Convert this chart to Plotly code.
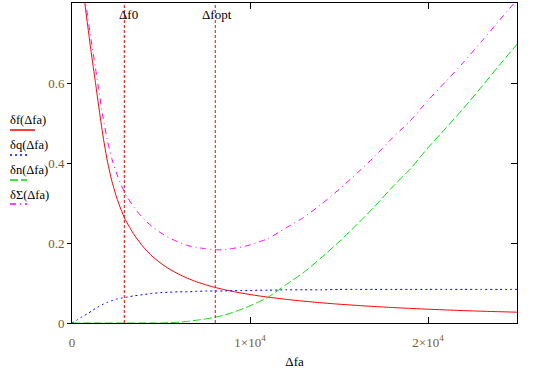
import plotly.graph_objects as go

# ---- data ----
fa = [0, 300, 500, 700, 900, 1100, 1300, 1500, 1750, 2000, 2250, 2500, 2750, 3000,
      3500, 4000, 4500, 5000, 5500, 6000, 6500, 7000, 7500, 8000, 8500, 9000, 9500,
      10000, 10500, 11000, 12000, 13000, 14000, 15000, 16000, 17000, 18000, 19000,
      20000, 21000, 22000, 23000, 24000, 25000]

d_f = [None, 1.30, 1.00, 0.81, 0.737, 0.670, 0.607, 0.542, 0.465, 0.402, 0.353, 0.315,
       0.284, 0.258, 0.220, 0.1905, 0.167, 0.149, 0.134, 0.122, 0.1115, 0.103, 0.0957,
       0.0894, 0.0839, 0.0791, 0.075, 0.0712, 0.0678, 0.0647, 0.0593, 0.0546, 0.0506,
       0.047, 0.044, 0.0412, 0.0387, 0.0365, 0.0345, 0.0327, 0.031, 0.0295, 0.0282, 0.027]

d_q = [0.0, 0.008, 0.014, 0.019, 0.024, 0.030, 0.036, 0.041, 0.047, 0.052, 0.056, 0.060,
       0.062, 0.064, 0.068, 0.071, 0.074, 0.076, 0.077, 0.078, 0.078, 0.079, 0.080,
       0.080, 0.080, 0.081, 0.081, 0.081, 0.082, 0.082, 0.083, 0.083, 0.083, 0.084,
       0.084, 0.084, 0.084, 0.084, 0.084, 0.084, 0.084, 0.084, 0.084, 0.084]

d_n = [0.0, 0.0, 0.0, 0.0, 0.0, 0.0, 0.0, 0.0, 0.0, 0.0, 0.0, 0.0, 0.0, 0.0,
       0.0, 0.0, 0.0, 0.0, 0.001, 0.002, 0.004, 0.007, 0.010, 0.014, 0.019, 0.026,
       0.034, 0.043, 0.053, 0.064, 0.095, 0.126, 0.163, 0.203, 0.246, 0.291, 0.340,
       0.385, 0.438, 0.487, 0.537, 0.590, 0.644, 0.697]

d_sum = [None, 1.308, 1.014, 0.829, 0.761, 0.700, 0.643, 0.583, 0.512, 0.454, 0.409,
         0.375, 0.346, 0.322, 0.288, 0.2615, 0.241, 0.225, 0.212, 0.202, 0.1935, 0.189,
         0.1857, 0.1834, 0.1829, 0.1861, 0.190, 0.1952, 0.2028, 0.2107, 0.2373, 0.2636,
         0.2966, 0.334, 0.374, 0.4162, 0.4627, 0.5055, 0.5565, 0.6037, 0.652, 0.7035,
         0.7562, 0.808]

f0 = 2940
fopt = 8050
marker_names = ["Δf0", "Δfopt"]

x_ticks = [0, 10000, 20000]
x_tick_text = ["0", "1×10<sup>4</sup>", "2×10<sup>4</sup>"]
y_ticks = [0, 0.2, 0.4, 0.6]
y_tick_text = ["0", "0.2", "0.4", "0.6"]

series_names = ["δf(Δfa)", "δq(Δfa)", "δn(Δfa)", "δΣ(Δfa)"]
series_colors = ["#ff0000", "#0000ff", "#00dd00", "#ff00ff"]
series_dash = ["solid", "2px,3px", "8px,3px", "6px,4px,1px,4px"]

SERIF = "Times New Roman"
TICK_COLOR = "#7a5a2a"

fig = go.Figure()
for ys, name, col, dash in zip([d_f, d_q, d_n, d_sum], series_names, series_colors, series_dash):
    fig.add_trace(go.Scatter(x=fa, y=ys, mode="lines", name=name,
                             line=dict(color=col, width=1, dash=dash, shape="spline", smoothing=0.6),
                             showlegend=False, connectgaps=False))

# dummy trace for right-side axis ticks
fig.add_trace(go.Scatter(x=[None], y=[None], yaxis="y2", showlegend=False, hoverinfo="skip"))

for xv, lab, xs in zip([f0, fopt], marker_names, [4, 2]):
    fig.add_vline(x=xv, line=dict(color="#ff0000", width=1, dash="3px,2px"))
    fig.add_annotation(x=xv, y=1, xref="x", yref="paper", text=lab, showarrow=False,
                       xanchor="center", yanchor="top", xshift=xs, yshift=-2,
                       font=dict(family=SERIF, size=13, color="black"))

# Mathcad-style legend (label above a sample line), left of the plot
W, H, L, T = 445.0, 320.0, 72.0, 3.0
def px(xp):
    return (xp - L) / W
def py(yp):
    return (T + H - yp) / H

leg_text_y = [120, 145, 170, 195]
leg_line_y = [130, 155, 180, 204]
leg_line_x1 = [35, 30, 27, 27]
for name, col, dash, ty, ly, lx1 in zip(series_names, series_colors, series_dash,
                                        leg_text_y, leg_line_y, leg_line_x1):
    fig.add_annotation(x=px(9), y=py(ty), xref="paper", yref="paper", text=name,
                       showarrow=False, xanchor="left", yanchor="middle", borderpad=0,
                       font=dict(family=SERIF, size=12.5, color="black"))
    fig.add_shape(type="line", xref="paper", yref="paper", x0=px(10), x1=px(lx1),
                  y0=py(ly), y1=py(ly), line=dict(color=col, width=1.5, dash=dash))

fig.update_layout(
    width=546, height=374,
    margin=dict(l=72, r=29, t=3, b=51),
    paper_bgcolor="white", plot_bgcolor="white",
    font=dict(family=SERIF, size=12, color=TICK_COLOR),
    xaxis=dict(range=[0, 25000], tickvals=x_ticks, ticktext=x_tick_text,
               ticks="inside", ticklen=6, tickcolor="black", tickwidth=1,
               showline=True, linecolor="black", linewidth=1, mirror="ticks",
               showgrid=False, zeroline=False, ticklabelstandoff=7,
               tickfont=dict(family=SERIF, size=13, color=TICK_COLOR),
               title=dict(text="Δfa", standoff=8,
                          font=dict(family=SERIF, size=13, color="black"))),
    yaxis=dict(range=[0, 0.8], tickvals=y_ticks, ticktext=y_tick_text,
               ticks="outside", ticklen=4, tickcolor="black", tickwidth=1,
               showline=True, linecolor="black", linewidth=1, mirror=True,
               showgrid=False, zeroline=False,
               tickfont=dict(family=SERIF, size=13, color=TICK_COLOR)),
    yaxis2=dict(range=[0, 0.8], tickvals=y_ticks, overlaying="y", side="right",
                ticks="inside", ticklen=6, tickcolor="black", tickwidth=1,
                showticklabels=False, showline=False, showgrid=False, zeroline=False),
)

fig.write_html("out.html", config={"displayModeBar": False},
               post_script="document.body.style.margin='0';")
